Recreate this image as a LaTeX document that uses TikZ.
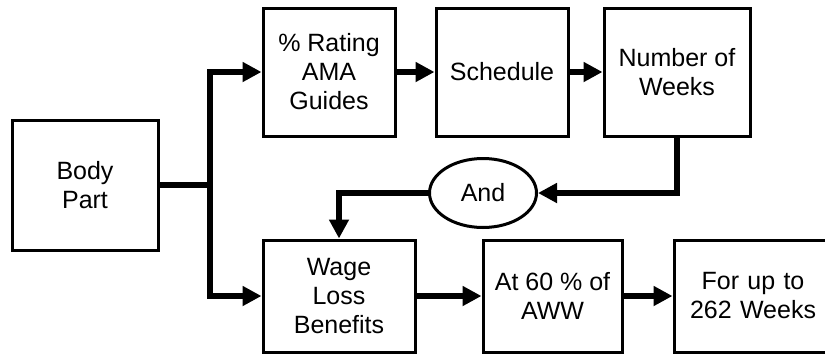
\documentclass[tikz,border=0pt]{standalone}
\usepackage{fontspec}
\setmainfont{Liberation Sans}
\usetikzlibrary{arrows.meta,shapes.geometric}
\begin{document}
\begin{tikzpicture}[x=1pt,y=-1pt,
  box/.style={draw=black,line width=3pt,fill=white,align=center,inner sep=0pt,
    font=\fontsize{25}{29}\selectfont},
  oval/.style={ellipse,draw=black,line width=3pt,fill=white,inner sep=0pt,
    minimum width=107pt,minimum height=69pt,font=\fontsize{25}{29}\selectfont},
  flow/.style={line width=6pt,line join=miter,-{Triangle[length=19pt,width=19pt]}},
  plain/.style={line width=6pt,line join=miter}]
\useasboundingbox (0,0) rectangle (825,354);
\clip (0,0) rectangle (825,354);

% process boxes
\node[box,minimum width=146pt,minimum height=130pt] (body) at (85,185) {Body\\Part};
\node[box,minimum width=132pt,minimum height=128pt] (rating) at (329,72) {\% Rating\\AMA\\Guides};
\node[box,minimum width=132pt,minimum height=128pt] (sched) at (502,72) {Schedule};
\node[box,minimum width=146pt,minimum height=128pt] (weeks) at (677,72) {Number of\\Weeks};
\node[oval] (and) at (483,193) {And};
\node[box,minimum width=152pt,minimum height=112pt] (wage) at (339,296) {Wage\\Loss\\Benefits};
\node[box,minimum width=139pt,minimum height=112pt] (pct) at (552.5,296) {At 60 \% of\\AWW};
\node[box,minimum width=170pt,minimum height=112pt,text width=150pt] (term) at (759,296)
  {\hspace*{-12pt}For up to\\\hspace*{-12pt}262 Weeks};

% branch point after the body part
\coordinate (split) at (210,185);

% connectors
\draw[plain] (body.east) -- ([xshift=3pt]split);
\draw[flow] (split) |- (rating.west);
\draw[flow] (split) |- (wage.west);
\draw[flow] (rating.east) -- (sched.west);
\draw[flow] (sched.east) -- (weeks.west);
\draw[flow] (weeks.south) |- (and.east);
\draw[flow] (and.west) -| (wage.north);
\draw[flow] (wage.east) -- (pct.west);
\draw[flow] (pct.east) -- (term.west);
\end{tikzpicture}
\end{document}
